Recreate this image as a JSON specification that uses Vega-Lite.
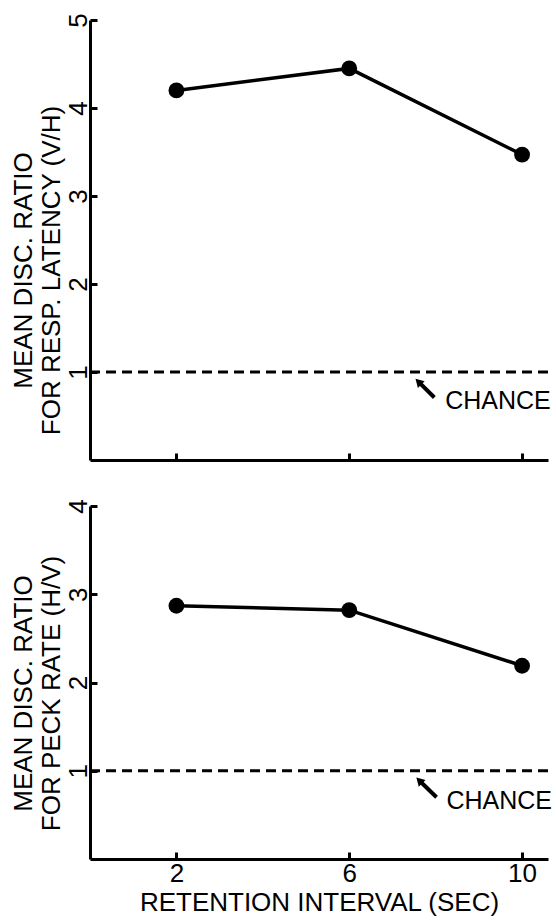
{
  "$schema": "https://vega.github.io/schema/vega-lite/v6.json",
  "padding": {"left": 10, "top": 12, "right": 2, "bottom": 2},
  "datasets": {
    "latency": [
      {"interval": 2, "ratio": 4.2},
      {"interval": 6, "ratio": 4.45},
      {"interval": 10, "ratio": 3.47}
    ],
    "peck": [
      {"interval": 2, "ratio": 2.87},
      {"interval": 6, "ratio": 2.82},
      {"interval": 10, "ratio": 2.19}
    ],
    "chance": [{"ratio": 1}],
    "arrowTop": [
      {"interval": 7.97, "ratio": 0.71},
      {"interval": 7.6, "ratio": 0.89}
    ],
    "arrowBottom": [
      {"interval": 8.02, "ratio": 0.7},
      {"interval": 7.62, "ratio": 0.89}
    ],
    "labelTop": [{"interval": 8.22, "ratio": 0.67, "text": "CHANCE"}],
    "labelBottom": [{"interval": 8.25, "ratio": 0.66, "text": "CHANCE"}]
  },
  "config": {
    "view": {"stroke": null},
    "font": "Liberation Sans",
    "axis": {
      "domainColor": "black",
      "domainWidth": 3,
      "tickColor": "black",
      "tickWidth": 3,
      "tickSize": -7,
      "grid": false,
      "labelColor": "black",
      "labelFont": "Liberation Sans",
      "labelFontSize": 26,
      "titleColor": "black",
      "titleFont": "Liberation Sans",
      "titleFontWeight": "normal",
      "titleFontSize": 26,
      "format": "d"
    }
  },
  "spacing": 36,
  "vconcat": [
    {
      "width": 458,
      "height": 440,
      "layer": [
        {
          "data": {"name": "latency"},
          "mark": {"type": "line", "color": "black", "strokeWidth": 3.5},
          "encoding": {
            "x": {
              "field": "interval", "type": "quantitative",
              "scale": {"domain": [0, 10.6], "nice": false},
              "axis": {"values": [2, 6, 10], "labels": false, "title": null}
            },
            "y": {
              "field": "ratio", "type": "quantitative",
              "scale": {"domain": [0, 5], "nice": false},
              "axis": {
                "values": [1, 2, 3, 4, 5],
                "labelAngle": -90,
                "labelPadding": 6,
                "title": ["MEAN DISC. RATIO", "FOR RESP. LATENCY (V/H)"],
                "titlePadding": 1,
                "titleY": 250
              }
            }
          }
        },
        {
          "data": {"name": "latency"},
          "mark": {"type": "point", "shape": "circle", "filled": true, "color": "black", "opacity": 1, "size": 250},
          "encoding": {
            "x": {"field": "interval", "type": "quantitative"},
            "y": {"field": "ratio", "type": "quantitative"}
          }
        },
        {
          "data": {"name": "chance"},
          "mark": {"type": "rule", "color": "black", "strokeWidth": 3, "strokeDash": [10, 6]},
          "encoding": {"y": {"field": "ratio", "type": "quantitative"}}
        },
        {
          "data": {"name": "arrowTop"},
          "mark": {"type": "line", "color": "black", "strokeWidth": 4},
          "encoding": {
            "x": {"field": "interval", "type": "quantitative"},
            "y": {"field": "ratio", "type": "quantitative"},
            "order": {"field": "interval"}
          }
        },
        {
          "data": {"name": "arrowTop"},
          "transform": [{"filter": "datum.interval < 7.8"}],
          "mark": {"type": "point", "shape": "triangle-up", "angle": -45, "filled": true, "color": "black", "opacity": 1, "size": 90},
          "encoding": {
            "x": {"field": "interval", "type": "quantitative"},
            "y": {"field": "ratio", "type": "quantitative"}
          }
        },
        {
          "data": {"name": "labelTop"},
          "mark": {"type": "text", "align": "left", "baseline": "middle", "fontSize": 25, "color": "black", "font": "Liberation Sans"},
          "encoding": {
            "x": {"field": "interval", "type": "quantitative"},
            "y": {"field": "ratio", "type": "quantitative"},
            "text": {"field": "text"}
          }
        }
      ]
    },
    {
      "width": 458,
      "height": 353,
      "layer": [
        {
          "data": {"name": "peck"},
          "mark": {"type": "line", "color": "black", "strokeWidth": 3.5},
          "encoding": {
            "x": {
              "field": "interval", "type": "quantitative",
              "scale": {"domain": [0, 10.6], "nice": false},
              "axis": {
                "values": [2, 6, 10],
                "labelPadding": 8,
                "title": "RETENTION INTERVAL (SEC)",
                "titleFontSize": 26,
                "titlePadding": 3
              }
            },
            "y": {
              "field": "ratio", "type": "quantitative",
              "scale": {"domain": [0, 4], "nice": false},
              "axis": {
                "values": [1, 2, 3, 4],
                "labelAngle": -90,
                "labelPadding": 6,
                "title": ["MEAN DISC. RATIO", "FOR PECK RATE (H/V)"],
                "titlePadding": 1,
                "titleY": 187
              }
            }
          }
        },
        {
          "data": {"name": "peck"},
          "mark": {"type": "point", "shape": "circle", "filled": true, "color": "black", "opacity": 1, "size": 250},
          "encoding": {
            "x": {"field": "interval", "type": "quantitative"},
            "y": {"field": "ratio", "type": "quantitative"}
          }
        },
        {
          "data": {"name": "chance"},
          "mark": {"type": "rule", "color": "black", "strokeWidth": 3, "strokeDash": [10, 6]},
          "encoding": {"y": {"field": "ratio", "type": "quantitative"}}
        },
        {
          "data": {"name": "arrowBottom"},
          "mark": {"type": "line", "color": "black", "strokeWidth": 4},
          "encoding": {
            "x": {"field": "interval", "type": "quantitative"},
            "y": {"field": "ratio", "type": "quantitative"},
            "order": {"field": "interval"}
          }
        },
        {
          "data": {"name": "arrowBottom"},
          "transform": [{"filter": "datum.interval < 7.8"}],
          "mark": {"type": "point", "shape": "triangle-up", "angle": -45, "filled": true, "color": "black", "opacity": 1, "size": 90},
          "encoding": {
            "x": {"field": "interval", "type": "quantitative"},
            "y": {"field": "ratio", "type": "quantitative"}
          }
        },
        {
          "data": {"name": "labelBottom"},
          "mark": {"type": "text", "align": "left", "baseline": "middle", "fontSize": 25, "color": "black", "font": "Liberation Sans"},
          "encoding": {
            "x": {"field": "interval", "type": "quantitative"},
            "y": {"field": "ratio", "type": "quantitative"},
            "text": {"field": "text"}
          }
        }
      ]
    }
  ]
}
